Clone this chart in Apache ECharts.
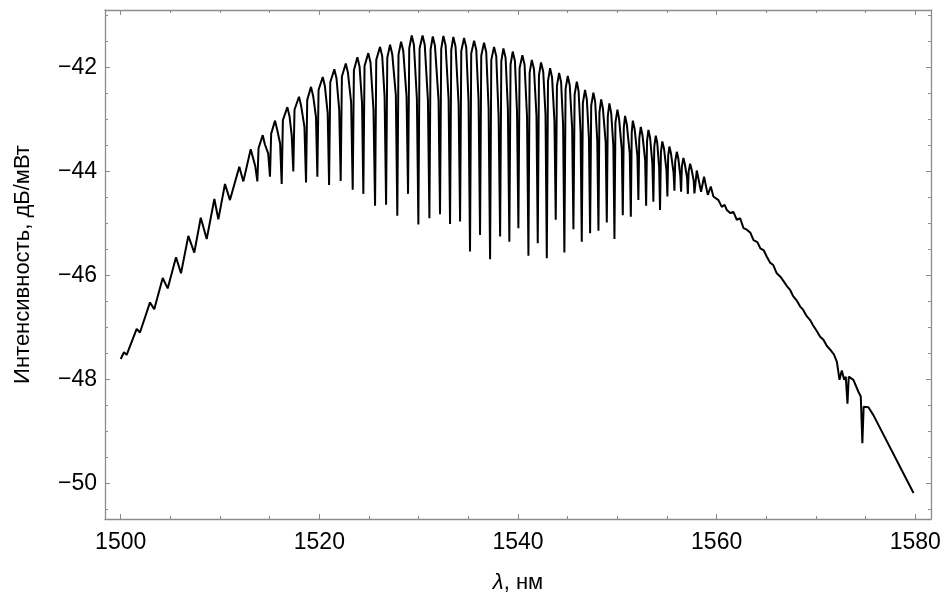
<!DOCTYPE html>
<html>
<head>
<meta charset="utf-8">
<script src="https://cdn.jsdelivr.net/npm/echarts@6/dist/echarts.min.js"></script>
<style>
html,body{margin:0;padding:0;background:#fff;}
#chart{width:947px;height:598px;}
</style>
</head>
<body>
<div id="chart"></div>
<script>
// Wavelength (nm) and intensity (dB/mW) points
const wavelengthNm = [
  1500.00,1500.33,1500.60,1501.61,1501.94,1502.95,1503.38,1504.23,1504.73,1505.57,
  1506.07,1506.81,1507.41,1508.06,1508.66,1509.43,1509.83,1510.50,1511.00,1511.94,
  1512.35,
  1513.09,1513.55,1513.76,
  1513.88,1514.30,1514.52,1514.85,1515.03,
  1515.15,1515.54,1515.76,1516.05,1516.21,
  1516.33,1516.78,1517.00,1517.22,1517.38,
  1517.50,1517.95,1518.17,1518.50,1518.66,
  1518.78,1519.16,1519.38,1519.66,1519.80,
  1519.92,1520.34,1520.56,1520.84,1520.98,
  1521.10,1521.51,1521.73,1522.00,1522.15,
  1522.27,1522.66,1522.88,1523.20,1523.36,
  1523.48,1523.83,1524.05,1524.30,1524.43,
  1524.55,1524.93,1525.15,1525.45,1525.61,
  1525.73,1526.11,1526.33,1526.57,1526.72,
  1526.84,1527.12,1527.34,1527.70,1527.85,
  1527.97,1528.23,1528.45,1528.78,1528.93,
  1529.05,1529.30,1529.52,1529.82,1529.97,
  1530.09,1530.39,1530.61,1530.93,1531.08,
  1531.20,1531.42,1531.64,1532.00,1532.15,
  1532.27,1532.49,1532.71,1533.01,1533.16,
  1533.28,1533.49,1533.71,1534.02,1534.17,
  1534.29,1534.57,1534.79,1535.02,1535.17,
  1535.29,1535.58,1535.80,1536.03,1536.18,
  1536.30,1536.58,1536.80,1537.04,1537.19,
  1537.31,1537.59,1537.81,1538.05,1538.20,
  1538.32,1538.53,1538.75,1538.98,1539.13,
  1539.25,1539.47,1539.69,1539.90,1540.04,
  1540.16,1540.44,1540.66,1540.91,1541.05,
  1541.17,1541.39,1541.61,1541.86,1541.99,
  1542.11,1542.32,1542.54,1542.77,1542.90,
  1543.02,1543.23,1543.43,1543.67,1543.80,
  1543.92,1544.14,1544.34,1544.54,1544.67,
  1544.79,1545.01,1545.21,1545.45,1545.58,
  1545.70,1545.92,1546.10,1546.30,1546.42,
  1546.53,1546.75,1546.93,1547.14,1547.26,
  1547.37,1547.59,1547.77,1547.98,1548.10,
  1548.20,1548.37,1548.55,1548.83,1548.94,
  1549.04,1549.20,1549.38,1549.60,1549.71,
  1549.81,1550.01,1550.18,1550.45,1550.55,
  1550.65,1550.78,1550.96,1551.25,1551.36,
  1551.45,1551.56,1551.74,1552.02,1552.12,
  1552.21,1552.36,1552.53,1552.80,1552.90,
  1552.99,1553.13,1553.30,1553.53,1553.63,
  1553.72,1553.87,1554.02,1554.21,1554.30,
  1554.39,1554.53,1554.70,1554.95,1555.04,
  1555.12,1555.24,1555.40,1555.66,1555.75,
  1555.83,1555.99,1556.14,1556.34,1556.42,
  1556.50,1556.65,1556.80,1557.02,1557.10,
  1557.18,1557.33,1557.48,1557.69,1557.76,
  1558.00,1558.43,
  1558.73,1559.11,
  1559.41,1559.67,
  1560.18,1560.52,1560.80,1561.02,1561.36,1561.70,1562.03,1562.37,1562.70,1563.04,
  1563.40,1563.71,1564.10,1564.40,1564.75,1565.05,1565.40,1565.70,1566.05,1566.39,
  1566.70,1567.05,1567.40,1567.70,1568.05,1568.41,1568.70,1569.05,1569.41,1569.70,
  1570.05,1570.42,1570.75,1571.10,1571.43,1571.80,1572.10,1572.37,1572.60,1572.84,
  1573.00,1573.17,1573.30,1573.44,1573.77,1574.27,1574.51,1574.62,1574.67,1574.80,
  1575.28,1575.78,1579.82
];
const intensityDb = [
  -47.61,-47.48,-47.53,-47.03,-47.10,-46.52,-46.65,-46.05,-46.25,-45.65,
  -45.96,-45.24,-45.56,-44.89,-45.30,-44.53,-44.92,-44.24,-44.55,-43.91,
  -44.19,
  -43.57,-43.90,-44.19,
  -43.55,-43.30,-43.48,-43.65,-44.10,
  -43.27,-43.02,-43.20,-43.46,-44.24,
  -43.01,-42.76,-42.94,-43.31,-44.00,
  -42.81,-42.56,-42.74,-43.14,-44.21,
  -42.62,-42.37,-42.55,-42.95,-44.10,
  -42.43,-42.18,-42.36,-42.88,-44.26,
  -42.28,-42.03,-42.21,-42.81,-44.18,
  -42.17,-41.92,-42.10,-42.67,-44.35,
  -42.05,-41.80,-41.98,-42.69,-44.43,
  -41.97,-41.72,-41.90,-42.81,-44.66,
  -41.85,-41.60,-41.78,-42.56,-44.64,
  -41.81,-41.56,-41.74,-42.53,-44.85,
  -41.75,-41.50,-41.68,-42.56,-44.43,
  -41.63,-41.38,-41.56,-42.60,-45.02,
  -41.63,-41.38,-41.56,-42.62,-44.90,
  -41.65,-41.40,-41.58,-42.62,-44.82,
  -41.64,-41.39,-41.57,-42.60,-45.01,
  -41.66,-41.41,-41.59,-42.70,-44.96,
  -41.68,-41.43,-41.61,-42.65,-45.54,
  -41.73,-41.48,-41.66,-42.62,-45.22,
  -41.77,-41.52,-41.70,-42.78,-45.69,
  -41.85,-41.60,-41.78,-42.95,-45.25,
  -41.88,-41.63,-41.81,-42.78,-45.35,
  -41.94,-41.69,-41.87,-42.85,-45.09,
  -42.01,-41.76,-41.94,-42.95,-45.62,
  -42.10,-41.85,-42.03,-42.92,-45.38,
  -42.15,-41.90,-42.08,-42.90,-45.67,
  -42.26,-42.01,-42.19,-43.03,-44.93,
  -42.35,-42.10,-42.28,-43.10,-45.56,
  -42.41,-42.16,-42.34,-43.16,-45.11,
  -42.52,-42.27,-42.45,-43.25,-45.35,
  -42.68,-42.43,-42.61,-43.35,-45.19,
  -42.73,-42.48,-42.66,-43.40,-45.14,
  -42.86,-42.61,-42.79,-43.45,-44.98,
  -42.94,-42.69,-42.87,-43.50,-45.30,
  -43.06,-42.81,-42.99,-43.58,-44.84,
  -43.16,-42.93,-43.10,-43.65,-44.87,
  -43.25,-43.02,-43.18,-43.70,-44.55,
  -43.36,-43.14,-43.30,-43.78,-44.66,
  -43.42,-43.20,-43.35,-43.85,-44.58,
  -43.52,-43.31,-43.45,-43.92,-44.74,
  -43.62,-43.42,-43.56,-43.98,-44.48,
  -43.70,-43.52,-43.65,-44.02,-44.37,
  -43.80,-43.62,-43.75,-44.08,-44.39,
  -43.90,-43.74,-43.86,-44.12,-44.43,
  -44.00,-43.85,-43.96,-44.18,-44.42,
  -43.98,-44.39,
  -44.10,-44.45,
  -44.29,-44.48,
  -44.55,-44.68,-44.64,-44.74,-44.80,-44.78,-44.93,-44.90,-45.09,-45.12,
  -45.18,-45.32,-45.36,-45.48,-45.52,-45.64,-45.76,-45.80,-45.96,-46.02,
  -46.10,-46.20,-46.28,-46.40,-46.48,-46.60,-46.66,-46.78,-46.86,-46.96,
  -47.06,-47.18,-47.24,-47.36,-47.43,-47.52,-47.66,-48.01,-47.83,-48.01,
  -47.95,-48.47,-47.95,-47.94,-48.01,-48.24,-48.33,-48.35,-49.23,-48.53,
  -48.54,-48.69,-50.19
];

const xAxisTitle = '{i|λ}, нм';
const yAxisTitle = 'Интенсивность, дБ/мВт';
const xRange = [1498.42, 1581.58];
const yRange = [-50.69, -40.89];

const frameColor = '#8c8c8c';
const font = '"Liberation Sans", Arial, sans-serif';

function axisCommon(showLabels) {
  return {
    axisLine: { show: true, onZero: false, lineStyle: { color: frameColor, width: 1.3 } },
    axisTick: { show: true, inside: true, length: 5, lineStyle: { color: frameColor, width: 1 } },
    minorTick: { show: true, splitNumber: 4, length: 3, lineStyle: { color: frameColor, width: 1 } },
    splitLine: { show: false },
    minorSplitLine: { show: false },
    axisLabel: {
      show: showLabels, color: '#000', fontSize: 23, fontFamily: font, fontStyle: 'normal',
      showMinLabel: false, showMaxLabel: false,
      formatter: v => (v < 0 ? '\u2212' + Math.abs(v) : String(v))
    }
  };
}

const chart = echarts.init(document.getElementById('chart'), null, { renderer: 'canvas' });
chart.setOption({
  animation: false,
  backgroundColor: '#fff',
  grid: { left: 105, right: 16, top: 10, bottom: 79, containLabel: false, outerBoundsMode: 'none' },
  xAxis: [
    Object.assign(axisCommon(true), {
      type: 'value', position: 'bottom', min: xRange[0], max: xRange[1],
      minInterval: 20, maxInterval: 20,
      name: xAxisTitle, nameLocation: 'middle', nameGap: 53,
      nameTextStyle: { color: '#000', fontSize: 22, fontFamily: font, fontStyle: 'normal',
        rich: { i: { fontStyle: 'italic', fontSize: 22, fontFamily: font, color: '#000' } } }
    }),
    Object.assign(axisCommon(false), {
      type: 'value', position: 'top', min: xRange[0], max: xRange[1],
      minInterval: 20, maxInterval: 20
    })
  ],
  yAxis: [
    Object.assign(axisCommon(true), {
      type: 'value', position: 'left', min: yRange[0], max: yRange[1],
      minInterval: 2, maxInterval: 2,
      name: yAxisTitle, nameLocation: 'middle', nameGap: 71, nameRotate: 90,
      nameTextStyle: { color: '#000', fontSize: 22, fontFamily: font, fontStyle: 'normal' }
    }),
    Object.assign(axisCommon(false), {
      type: 'value', position: 'right', min: yRange[0], max: yRange[1],
      minInterval: 2, maxInterval: 2
    })
  ],
  series: [{
    type: 'line',
    xAxisIndex: 0, yAxisIndex: 0,
    showSymbol: false,
    lineStyle: { color: '#000', width: 2 },
    data: wavelengthNm.map((x, i) => [x, intensityDb[i]])
  }]
});
chart.setOption({ xAxis: [{ axisLabel: { margin: 12 } }, {}] });
</script>
</body>
</html>
